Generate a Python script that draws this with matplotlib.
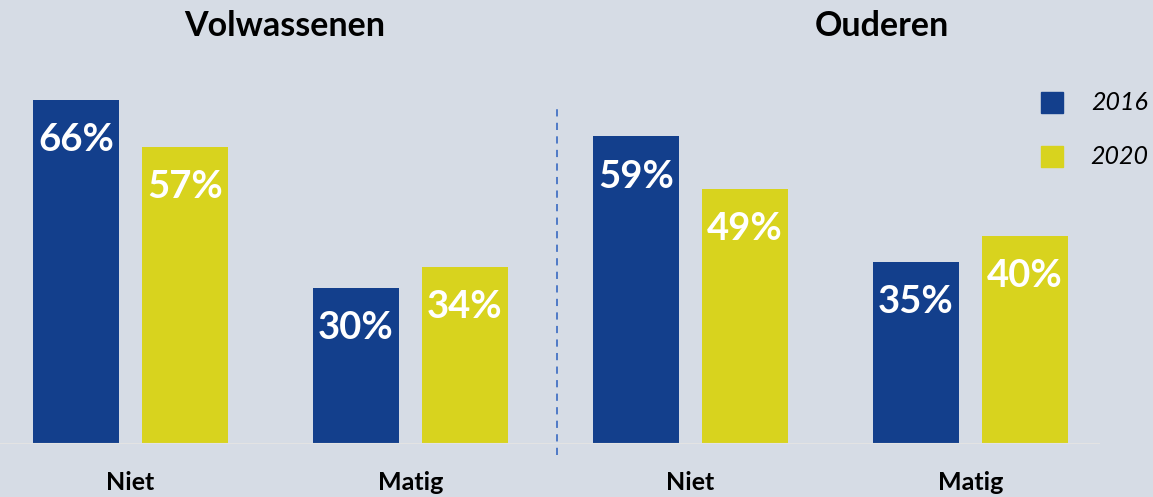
import matplotlib.pyplot as plt

# data
groups = ['Volwassenen', 'Ouderen']
categories = ['Niet', 'Matig', 'Niet', 'Matig']
years = ['2016', '2020']
values_2016 = [66, 30, 59, 35]
values_2020 = [57, 34, 49, 40]

bg = '#D6DCE5'
blue = '#133F8C'
yellow = '#D8D31E'
font = 'Lato'

fig = plt.figure(figsize=(11.53, 4.97), dpi=100)
fig.patch.set_facecolor(bg)

# axes placed so one x unit = 280 px and baseline sits at the original spot
px_per_unit = 280
ax = fig.add_axes([0, 53 / 497, 1100 / 1153, 444 / 497])
ax.set_facecolor(bg)
ax.set_xlim(-130.5 / px_per_unit, (1100 - 130.5) / px_per_unit)
ax.set_ylim(0, 444 / 5.212)

w = 86 / px_per_unit
off = 54.5 / px_per_unit
x = list(range(len(categories)))

b1 = ax.bar([i - off for i in x], values_2016, w, color=blue, label=years[0])
b2 = ax.bar([i + off for i in x], values_2020, w, color=yellow, label=years[1])

for bars in (b1, b2):
    for rect in bars:
        h = rect.get_height()
        ax.text(rect.get_x() + rect.get_width() / 2, h - 7.7, f'{h:.0f}%',
                ha='center', va='center', color='white', fontsize=27.5,
                fontweight='bold', family=font)

ax.axhline(0, color='#E3E3E3', lw=1.5)
ax.plot([1.523, 1.523], [-2.1, 65.2], color='#4472C4', lw=1.3,
        linestyle=(0, (4, 3.5)), clip_on=False)

for s in ax.spines.values():
    s.set_visible(False)
ax.set_xticks([])
ax.set_yticks([])
for i, cat in zip(x, categories):
    ax.text(i, -39 / 444, cat, transform=ax.get_xaxis_transform(),
            ha='center', va='center', fontsize=18, fontweight='bold',
            family=font, clip_on=False)

fig.text(285 / 1153, 1 - 26 / 497, groups[0], ha='center', va='center',
         fontsize=24.5, fontweight='bold', family=font)
fig.text(882 / 1153, 1 - 26 / 497, groups[1], ha='center', va='center',
         fontsize=24.5, fontweight='bold', family=font)

# legend drawn by hand to match the original placement
for yy, col, lab in [(102.5, blue, years[0]), (156.5, yellow, years[1])]:
    fig.patches.append(plt.Rectangle((1041 / 1153, 1 - (yy + 10.5) / 497), 22 / 1153, 21 / 497,
                                     transform=fig.transFigure, color=col))
    fig.text(1148 / 1153, 1 - yy / 497, lab, ha='right', va='center',
             fontsize=18, fontstyle='italic', family=font)

plt.savefig('out.png', dpi=100, facecolor=bg)
